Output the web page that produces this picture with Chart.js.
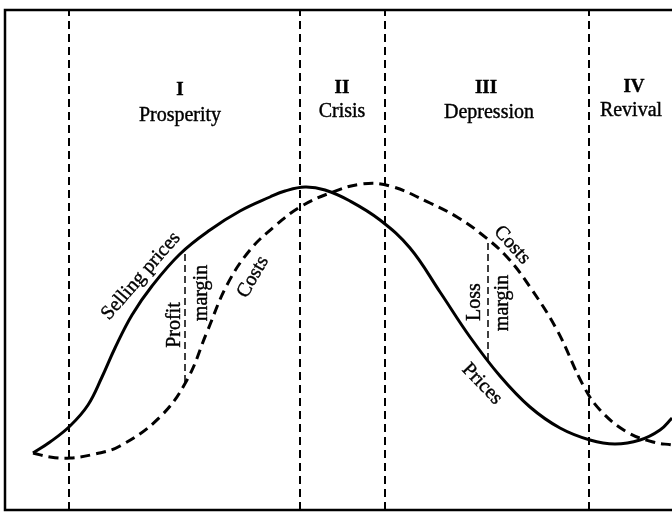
<!DOCTYPE html>
<html>
<head>
<meta charset="utf-8">
<script src="https://cdn.jsdelivr.net/npm/chart.js@4/dist/chart.umd.min.js"></script>
<style>
  html, body { margin: 0; padding: 0; background: #fff; }
  #wrap { width: 672px; height: 514px; position: relative; }
</style>
</head>
<body>
<div id="wrap"><canvas id="c" width="672" height="514"></canvas></div>
<script>
// Time axis (arbitrary units) and level (arbitrary units)
const priceX = [28, 45, 65, 83, 97, 110, 127, 147, 175, 205, 235, 265, 280, 300, 320, 345, 375, 405, 435, 465, 495, 525, 555, 585, 610, 635, 655, 667];
const priceY = [57, 68, 84, 105, 133, 162, 195, 224, 256, 280, 299, 313, 319, 323, 320, 309, 290, 262, 218, 173, 134, 103, 82, 70, 66, 70, 80, 92];

const costX = [28, 45, 65, 90, 115, 155, 182, 202, 222, 245, 270, 295, 325, 357, 385, 425, 452, 475, 502, 525, 552, 578, 595, 622, 648, 667];
const costY = [57, 53, 52, 56, 64, 93, 130, 178, 225, 260, 284, 303, 317, 326, 324, 307, 293, 277, 253, 223, 180, 125, 100, 78, 68, 65];

// Phase boundaries (time) and phase names
const phaseBounds = [64, 295, 380, 584];
const phaseNumerals = ["I", "II", "III", "IV"];
const phaseNames = ["Prosperity", "Crisis", "Depression", "Revival"];

// Margins: [time, lower level, upper level]
const profitMargin = [180, 128, 260];
const lossMargin = [483, 150, 270];

const X_MAX = 667, Y_MAX = 500;

const toPts = (xs, ys) => xs.map((x, i) => ({ x: x, y: ys[i] }));

const datasets = [];
datasets.push({
  label: "Selling prices",
  data: toPts(priceX, priceY),
  borderColor: "#000", borderWidth: 3, pointRadius: 0,
  showLine: true, tension: 0.4, fill: false
});
datasets.push({
  label: "Costs",
  data: toPts(costX, costY),
  borderColor: "#000", borderWidth: 3, borderDash: [10, 6], pointRadius: 0,
  showLine: true, tension: 0.4, fill: false
});
phaseBounds.forEach(b => {
  datasets.push({
    label: "bound",
    data: [{ x: b, y: 0 }, { x: b, y: Y_MAX }],
    borderColor: "#000", borderWidth: 2, borderDash: [8, 5], pointRadius: 0,
    showLine: true, tension: 0
  });
});
[profitMargin, lossMargin].forEach(m => {
  datasets.push({
    label: "margin",
    data: [{ x: m[0], y: m[1] }, { x: m[0], y: m[2] }],
    borderColor: "#000", borderWidth: 1.5, borderDash: [7, 4], pointRadius: 0,
    showLine: true, tension: 0
  });
});

// Label placement (data units) — styling kept separate from the data arrays
const phaseLabelPos = [
  { num: [175, 420], name: [175, 394] },
  { num: [337, 422], name: [337, 398] },
  { num: [481, 422], name: [484, 397] },
  { num: [629, 423], name: [626, 399] }
];
const curveLabels = [
  { text: "Selling prices", x: 136, y: 234, rot: -49 },
  { text: "Profit", x: 170, y: 185, rot: -90 },
  { text: "margin", x: 197, y: 217, rot: -90 },
  { text: "Costs", x: 248, y: 233, rot: -60 },
  { text: "Costs", x: 507, y: 265, rot: 48 },
  { text: "Loss", x: 470, y: 208, rot: -90 },
  { text: "margin", x: 498, y: 207, rot: -90 },
  { text: "Prices", x: 477, y: 126, rot: 46 }
];

const FONT = '"Liberation Serif", "DejaVu Serif", serif';

function drawText(ctx, t, x, y) {
  ctx.strokeText(t, x, y);
  ctx.fillText(t, x, y);
}

const decor = {
  id: "decor",
  beforeDraw(chart) {
    const ctx = chart.ctx;
    ctx.save();
    ctx.fillStyle = "#fff";
    ctx.fillRect(0, 0, chart.width, chart.height);
    ctx.restore();
  },
  afterDatasetsDraw(chart) {
    const ctx = chart.ctx;
    const a = chart.chartArea;
    const xs = chart.scales.x, ys = chart.scales.y;
    ctx.save();
    // frame
    ctx.strokeStyle = "#000";
    ctx.lineWidth = 2.5;
    ctx.beginPath();
    ctx.moveTo(chart.width + 5, a.top);
    ctx.lineTo(a.left, a.top);
    ctx.lineTo(a.left, a.bottom);
    ctx.lineTo(chart.width + 5, a.bottom);
    ctx.stroke();

    ctx.fillStyle = "#000";
    ctx.strokeStyle = "#000";
    ctx.lineWidth = 0.4;
    ctx.textAlign = "center";
    ctx.textBaseline = "middle";
    phaseLabelPos.forEach((p, i) => {
      ctx.font = "bold 19px " + FONT;
      drawText(ctx, phaseNumerals[i], xs.getPixelForValue(p.num[0]), ys.getPixelForValue(p.num[1]));
      ctx.font = "20px " + FONT;
      drawText(ctx, phaseNames[i], xs.getPixelForValue(p.name[0]), ys.getPixelForValue(p.name[1]));
    });
    ctx.font = "20px " + FONT;
    curveLabels.forEach(l => {
      ctx.save();
      ctx.translate(xs.getPixelForValue(l.x), ys.getPixelForValue(l.y));
      ctx.rotate(l.rot * Math.PI / 180);
      drawText(ctx, l.text, 0, 0);
      ctx.restore();
    });
    ctx.restore();
  }
};

new Chart(document.getElementById("c"), {
  type: "scatter",
  data: { datasets: datasets },
  options: {
    responsive: false,
    animation: false,
    layout: { padding: { left: 5, right: 0, top: 10, bottom: 4 } },
    plugins: { legend: { display: false }, tooltip: { enabled: false } },
    scales: {
      x: { type: "linear", min: 0, max: X_MAX, display: false },
      y: { type: "linear", min: 0, max: Y_MAX, display: false }
    }
  },
  plugins: [decor]
});
</script>
</body>
</html>
